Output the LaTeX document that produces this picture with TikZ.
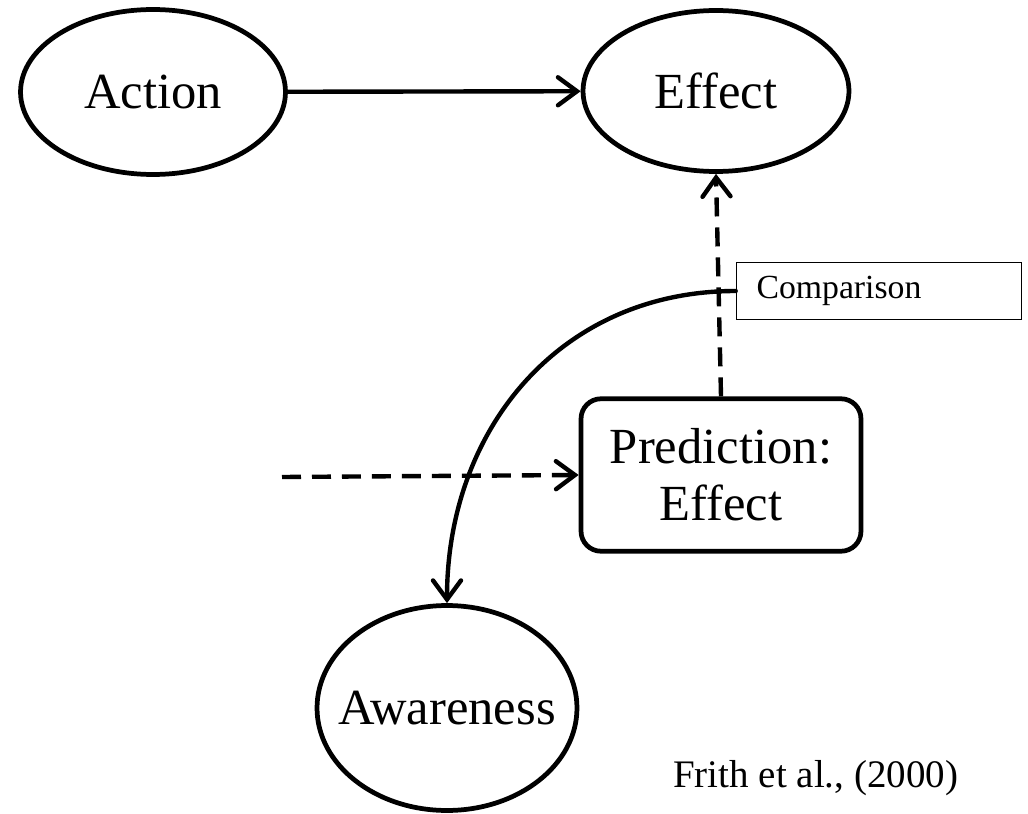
\documentclass[tikz,border=0pt]{standalone}
\usepackage{fontspec}
\setmainfont{Liberation Serif}
\usetikzlibrary{shapes.geometric,arrows.meta}

\begin{document}
\begin{tikzpicture}[
    x=0.02cm, y=-0.02cm,
    oval/.style={ellipse, draw, line width=2.7pt, inner sep=0pt,
        font=\fontsize{28.8}{32.4}\selectfont},
    predbox/.style={rectangle, draw, line width=2.7pt, rounded corners=0.4cm,
        align=center, minimum width=5.6cm, minimum height=3.05cm,
        font=\fontsize{28.8}{32.4}\selectfont},
    notebox/.style={rectangle, draw, line width=0.9pt, inner xsep=0.4cm,
        text width=4.9cm, align=left, minimum height=1.14cm,
        font=\fontsize{19.2}{22}\selectfont},
    link/.style={line width=2.5pt, line cap=round,
        -{Straight Barb[length=0.38cm, width=0.56cm, line cap=round]}},
    dashlink/.style={link, line cap=butt, dash pattern=on 0.38cm off 0.22cm}
]
\useasboundingbox (0,0) rectangle (1028,814);

\node[oval, minimum width=5.3cm, minimum height=3.3cm] (action) at (153,92) {\makebox[0pt]{Action}};
\node[oval, minimum width=5.32cm, minimum height=3.22cm] (effect) at (716,91) {\makebox[0pt]{Effect}};
\node[oval, minimum width=5.2cm, minimum height=4.1cm] (aware) at (447,708) {\makebox[0pt]{Awareness}};
\node[predbox] (pred) at (721,475) {Prediction:\\Effect};
\node[notebox] (comp) at (879,291) {Comparison};
\node[anchor=base west, font=\fontsize{22.2}{26}\selectfont] (cite) at (667,787) {Frith et al., (2000)};

% free end of the incoming dashed arrow
\coordinate (cmd) at (282,477);

\draw[link] (action) -- (effect);
\draw[dashlink] (pred.north) -- (effect.south);
\draw[dashlink] (cmd) -- (pred.west);
\draw[link] (comp.west) to[out=180, in=90, looseness=1.05] (aware.north);

\end{tikzpicture}
\end{document}
